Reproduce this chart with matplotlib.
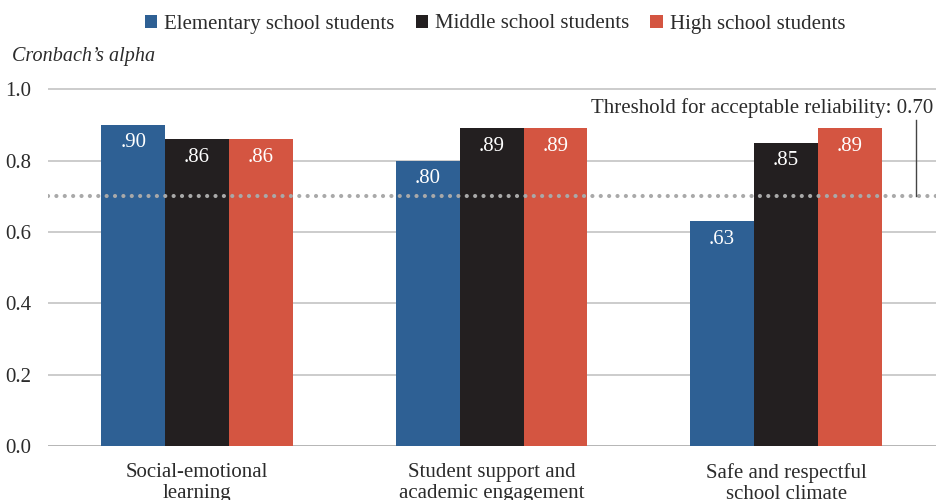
import matplotlib.pyplot as plt
from matplotlib.patches import Patch
import numpy as np

categories = ["Social-emotional\nlearning",
              "Student support and\nacademic engagement",
              "Safe and respectful\nschool climate"]
series = ["Elementary school students", "Middle school students", "High school students"]
elementary = [0.90, 0.80, 0.63]
middle = [0.86, 0.89, 0.85]
high = [0.86, 0.89, 0.89]
threshold = 0.70
yticks = [0.0, 0.2, 0.4, 0.6, 0.8, 1.0]

colors = ["#2e6094", "#231f20", "#d45541"]
text_color = "#2b2b2b"
grid_color = "#cccccc"

plt.rcParams['font.family'] = ['Liberation Serif', 'DejaVu Serif']

fig = plt.figure(figsize=(9.36, 5.0), dpi=100)
ax = fig.add_axes([0.0513, 0.108, 0.9487, 0.728])

x = np.arange(len(categories))
width = 0.217
for i, (vals, col) in enumerate(zip([elementary, middle, high], colors)):
    pos = x + (i - 1) * width
    bars = ax.bar(pos, vals, width, color=col, zorder=2)
    for b, v in zip(bars, vals):
        ax.annotate(f"{v:.2f}"[1:], (b.get_x() + b.get_width() / 2, v),
                    xytext=(0, -13), textcoords="offset points",
                    ha="center", va="center", color="white", fontsize=15,
                    zorder=4)

# dotted reliability threshold across the whole plot
ax.axhline(threshold, color="#a9a9a9", lw=3.0, ls=(0, (0.01, 2.0)),
           dash_capstyle="round", zorder=3)
ax.plot([2.441, 2.441], [threshold, 0.913], color="#444444", lw=1.0, zorder=3)
ax.text(2.5, 0.947, f"Threshold for acceptable reliability: {threshold:.2f}",
        ha="right", va="center", fontsize=15, color=text_color)

ax.set_xlim(-0.506, 2.509)
ax.set_ylim(0, 1.02)
ax.set_yticks(yticks)
ax.set_yticklabels([f"{t:.1f}" for t in yticks])
ax.yaxis.grid(True, color=grid_color, lw=1.4, zorder=0)
ax.set_axisbelow(True)
ax.set_xticks(x)
ax.set_xticklabels(categories, linespacing=1.15)
ax.tick_params(axis="y", length=0, pad=12, labelsize=15, labelcolor=text_color)
ax.tick_params(axis="x", length=0, pad=12, labelsize=15, labelcolor=text_color)
for s in ax.spines.values():
    s.set_visible(False)
ax.axhline(0, color="#b5b5b5", lw=2, zorder=1)

fig.text(0.013, 0.886, "Cronbach\u2019s alpha", style="italic", fontsize=14.5,
         color=text_color, va="center", ha="left")

handles = [Patch(facecolor=c, edgecolor="none") for c in colors]
fig.legend(handles, series, loc="center", bbox_to_anchor=(0.529, 0.952), ncol=3,
           frameon=False, fontsize=15, handlelength=0.6, handleheight=0.6,
           handletextpad=0.35, columnspacing=1.0, labelcolor=text_color)

fig.savefig("out.png", dpi=100)
plt.close()
